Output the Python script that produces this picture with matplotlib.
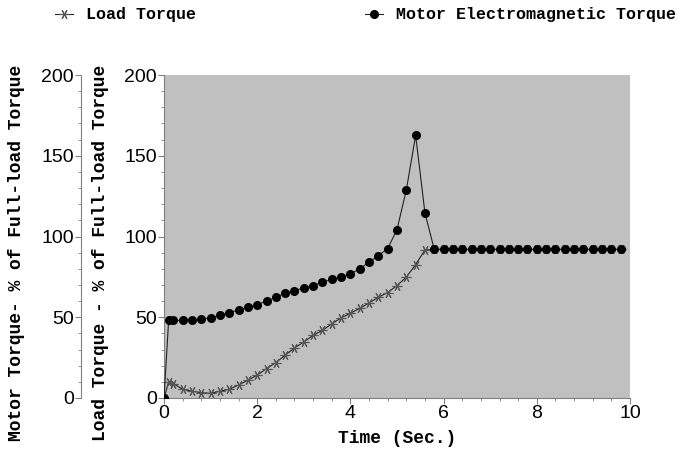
import matplotlib.pyplot as plt
from matplotlib.ticker import MultipleLocator

# time samples (s)
time = [0, 0.1, 0.2, 0.4, 0.6, 0.8, 1.0, 1.2, 1.4, 1.6, 1.8, 2.0, 2.2, 2.4,
        2.6, 2.8, 3.0, 3.2, 3.4, 3.6, 3.8, 4.0, 4.2, 4.4, 4.6, 4.8, 5.0, 5.2,
        5.4, 5.6, 5.8, 6.0, 6.2, 6.4, 6.6, 6.8, 7.0, 7.2, 7.4, 7.6, 7.8, 8.0,
        8.2, 8.4, 8.6, 8.8, 9.0, 9.2, 9.4, 9.6, 9.8]

# motor electromagnetic torque, % of full load
motor_torque = [0, 48.2, 48, 48, 48, 49, 49.6, 51.2, 52.9, 54.5, 56.2, 57.8,
                60, 62.4, 64.9, 66.5, 68.2, 69.6, 71.7, 73.5, 75, 76.8, 80.1,
                84, 88.2, 92.5, 104.3, 128.8, 162.6, 114.5,
                92, 92, 92, 92, 92, 92, 92, 92, 92, 92, 92,
                92, 92, 92, 92, 92, 92, 92, 92, 92, 92]

# load torque, % of full load
load_torque = [0, 9.9, 8.9, 5.4, 4.2, 3.3, 2.9, 4.2, 5.4, 8, 11, 14.2, 18.2,
               21.9, 26.5, 31, 34.7, 38.8, 41.9, 45.9, 49.6, 52.5, 55.5, 58.8,
               62.4, 65.3, 69.6, 74.8, 82.6, 91.7,
               92, 92, 92, 92, 92, 92, 92, 92, 92, 92, 92,
               92, 92, 92, 92, 92, 92, 92, 92, 92, 92]

W, H = 683, 451
mono = 'Liberation Mono'
sans = 'Liberation Sans'

fig = plt.figure(figsize=(W / 100, H / 100), dpi=100)
ax = fig.add_axes([164 / W, 1 - 398 / H, (630 - 164) / W, (398 - 75) / H])
ax.set_facecolor('#c0c0c0')

star = (6, 2, 90)
l1, = ax.plot(time, load_torque, color='#222222', lw=0.8, marker=star,
              ms=7, mec='#555555', mew=0.8, label='Load Torque', zorder=3)
l2, = ax.plot(time, motor_torque, color='#222222', lw=0.8, marker='o',
              ms=5.5, mfc='black', mec='black', label='Motor Electromagnetic Torque',
              zorder=4)

ax.set_xlim(0, 10)
ax.set_ylim(0, 200)
ax.xaxis.set_major_locator(MultipleLocator(2))
ax.xaxis.set_minor_locator(MultipleLocator(0.4))
ax.yaxis.set_major_locator(MultipleLocator(50))
ax.yaxis.set_minor_locator(MultipleLocator(10))

for s in ['top', 'right']:
    ax.spines[s].set_visible(False)
for s in ['left', 'bottom']:
    ax.spines[s].set_color('#808080')
ax.tick_params(which='both', colors='#808080', labelcolor='black')
ax.tick_params(which='major', length=4, labelsize=14, pad=1)
ax.tick_params(which='minor', length=2)
for lab in ax.get_xticklabels() + ax.get_yticklabels():
    lab.set_fontfamily(sans)

ax.set_xlabel('Time (Sec.)', fontfamily=mono, fontweight='bold', fontsize=13,
              labelpad=6)

# outer y axis for motor torque
ax2 = ax.twinx()
ax2.set_ylim(0, 200)
ax2.yaxis.set_ticks_position('left')
ax2.spines['left'].set_position(('outward', 60))
for s in ['top', 'right', 'bottom']:
    ax2.spines[s].set_visible(False)
ax2.spines['left'].set_color('#808080')
ax2.yaxis.set_major_locator(MultipleLocator(50))
ax2.yaxis.set_minor_locator(MultipleLocator(10))
ax2.tick_params(which='both', colors='#808080', labelcolor='black')
ax2.tick_params(which='major', length=4, labelsize=14, pad=1)
ax2.tick_params(which='minor', length=2)
for lab in ax2.get_yticklabels():
    lab.set_fontfamily(sans)

fig.text(17 / W, 1 - 441 / H, 'Motor Torque- % of Full-load Torque', rotation=90,
         ha='center', va='bottom', fontfamily=mono, fontweight='bold', fontsize=13)
fig.text(101 / W, 1 - 441 / H, 'Load Torque - % of Full-load Torque', rotation=90,
         ha='center', va='bottom', fontfamily=mono, fontweight='bold', fontsize=13)

# legend entries along the top
for line, x0 in [(l1, 48), (l2, 358)]:
    fig.legend(handles=[line], loc='center left',
               bbox_to_anchor=(x0 / W, 1 - 15 / H), frameon=False,
               handlelength=1.1, handletextpad=0.8, borderaxespad=0,
               prop={'family': mono, 'weight': 'bold', 'size': 12})

fig.savefig('out.png', dpi=100)
plt.close(fig)
